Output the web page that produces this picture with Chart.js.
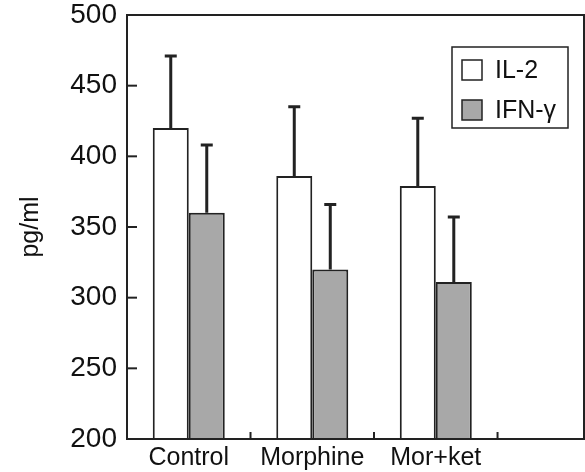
<!DOCTYPE html>
<html>
<head>
<meta charset="utf-8">
<script src="https://cdn.jsdelivr.net/npm/chart.js@4/dist/chart.umd.min.js"></script>
<style>
  html, body { margin: 0; padding: 0; background: #fff; overflow: hidden; }
  #wrap { width: 585px; height: 472px; }
</style>
</head>
<body>
<div id="wrap"><canvas id="c" width="585" height="472"></canvas></div>
<script>
// data
var categories = ['Control', 'Morphine', 'Mor+ket'];
var seriesNames = ['IL-2', 'IFN-\u03b3'];
var il2Values = [420, 386, 379];
var il2Errors = [51, 49, 48];
var ifnValues = [360, 320, 311];
var ifnErrors = [48, 46, 46];
var yTicks = [200, 250, 300, 350, 400, 450, 500];

var xMax = 3.7;   // axis runs a bit past the third group
var FONT = 'Liberation Sans, Arial, sans-serif';

function toPoints(vals) {
    return vals.map(function (v, i) { return { x: i + 0.5, y: v }; });
}

// inward ticks, frame box, error bars and the boxed legend
var extras = {
    id: 'extras',
    afterDatasetsDraw: function (chart) {
        var ctx = chart.ctx;
        var area = chart.chartArea;
        var xs = chart.scales.x, ys = chart.scales.y;
        ctx.save();
        ctx.strokeStyle = '#222';

        // error bars (upper only)
        var errs = [il2Errors, ifnErrors];
        ctx.lineWidth = 3;
        chart.data.datasets.forEach(function (ds, d) {
            var meta = chart.getDatasetMeta(d);
            meta.data.forEach(function (bar, i) {
                var top = ys.getPixelForValue(ds.data[i].y + errs[d][i]);
                ctx.beginPath();
                ctx.moveTo(bar.x, bar.y);
                ctx.lineTo(bar.x, top);
                ctx.moveTo(bar.x - 6, top);
                ctx.lineTo(bar.x + 6, top);
                ctx.stroke();
            });
        });

        // frame
        ctx.lineWidth = 2;
        ctx.strokeRect(area.left, area.top, area.right - area.left, area.bottom - area.top);

        // y ticks pointing in
        yTicks.forEach(function (v) {
            var y = ys.getPixelForValue(v);
            ctx.beginPath();
            ctx.moveTo(area.left, y);
            ctx.lineTo(area.left + 10, y);
            ctx.stroke();
        });
        // x ticks between groups
        for (var k = 1; k <= categories.length; k++) {
            var x = xs.getPixelForValue(k);
            ctx.beginPath();
            ctx.moveTo(x, area.bottom);
            ctx.lineTo(x, area.bottom - 7);
            ctx.stroke();
        }

        // legend
        var lx = 452, ly = 47, lw = 116, lh = 81;
        ctx.lineWidth = 1.5;
        ctx.strokeRect(lx, ly, lw, lh);
        ctx.font = '25px ' + FONT;
        ctx.textBaseline = 'middle';
        chart.data.datasets.forEach(function (ds, d) {
            var by = ly + 13 + d * 40;
            ctx.fillStyle = ds.backgroundColor;
            ctx.fillRect(lx + 10, by, 20, 20);
            ctx.lineWidth = 1.5;
            ctx.strokeRect(lx + 10, by, 20, 20);
            ctx.fillStyle = '#111';
            ctx.fillText(ds.label, lx + 43, by + 11);
        });
        ctx.restore();
    }
};

new Chart(document.getElementById('c'), {
    type: 'bar',
    data: {
        datasets: [{
            label: seriesNames[0],
            data: toPoints(il2Values),
            backgroundColor: '#ffffff',
            borderColor: '#222',
            borderWidth: 2
        }, {
            label: seriesNames[1],
            data: toPoints(ifnValues),
            backgroundColor: '#a8a8a8',
            borderColor: '#222',
            borderWidth: 2
        }]
    },
    options: {
        responsive: false,
        animation: false,
        categoryPercentage: 0.583,
        barPercentage: 1,
        layout: { padding: { top: 0, right: 1, left: 0, bottom: 0 } },
        plugins: {
            legend: { display: false },
            tooltip: { enabled: false }
        },
        scales: {
            x: {
                type: 'linear',
                min: 0,
                max: xMax,
                offset: false,
                grid: { display: false, offset: false, drawTicks: false },
                border: { display: false },
                afterBuildTicks: function (scale) {
                    scale.ticks = categories.map(function (c, i) { return { value: i + 0.5 }; });
                },
                afterFit: function (scale) {
                    scale.height = 33;
                    scale.paddingLeft = 0;
                    scale.paddingRight = 0;
                },
                ticks: {
                    color: '#111',
                    padding: 7,
                    font: { family: FONT, size: 25, lineHeight: 1 },
                    maxRotation: 0,
                    autoSkip: false,
                    callback: function (v) { return categories[Math.floor(v)]; }
                }
            },
            y: {
                min: 200,
                max: 500,
                grid: { display: false, drawTicks: false },
                border: { display: false },
                afterBuildTicks: function (scale) {
                    scale.ticks = yTicks.map(function (v) { return { value: v }; });
                },
                afterFit: function (scale) {
                    scale.width = 127;
                    scale.paddingTop = 15;
                    scale.paddingBottom = 0;
                },
                ticks: {
                    color: '#111',
                    padding: 10,
                    font: { family: FONT, size: 28, lineHeight: 1 }
                },
                title: {
                    display: true,
                    text: 'pg/ml',
                    color: '#111',
                    padding: { top: 16, bottom: 0 },
                    font: { family: FONT, size: 25 }
                }
            }
        }
    },
    plugins: [extras]
});
</script>
</body>
</html>
